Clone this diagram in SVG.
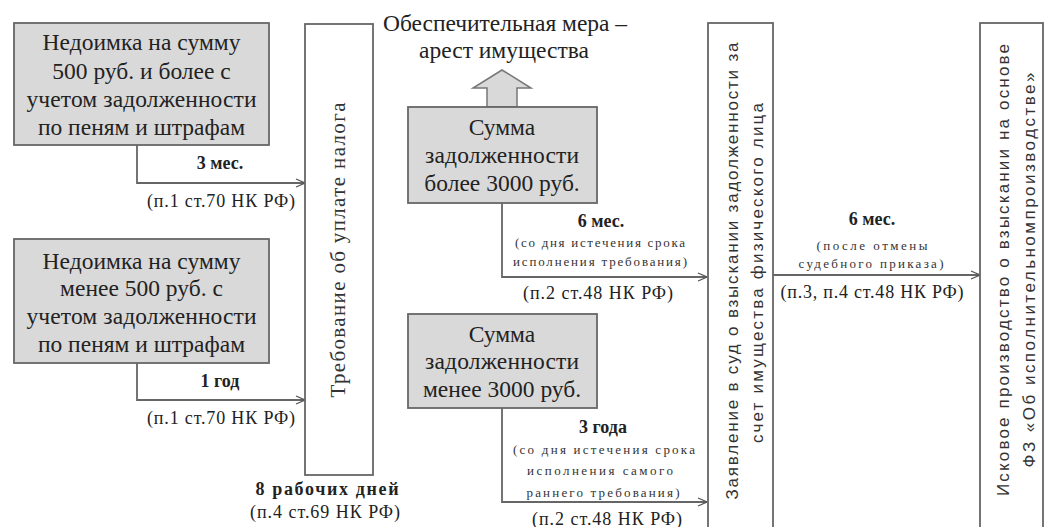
<svg xmlns="http://www.w3.org/2000/svg" width="1044" height="527" viewBox="0 0 1044 527">
<defs>
<marker id="arr" viewBox="0 0 10 10" refX="10" refY="5" markerWidth="10" markerHeight="10" markerUnits="userSpaceOnUse" orient="auto">
<polyline points="1,1 10,5 1,9" fill="none" stroke="#555" stroke-width="1.3"/>
</marker>
</defs>
<style>
.box{fill:#d9d9d9;stroke:#666;stroke-width:1.8}
.vbox{fill:#fff;stroke:#666;stroke-width:1.8}
.t{font-family:'Liberation Serif','Times New Roman',serif;font-size:23.5px;fill:#222;text-anchor:middle}
.v{font-family:'Liberation Sans',Arial,sans-serif;font-size:17px;fill:#333;text-anchor:middle}
.vs{font-family:'Liberation Serif','Times New Roman',serif;font-size:21px;fill:#333;text-anchor:middle}
.b{font-family:'Liberation Serif','Times New Roman',serif;font-size:18px;font-weight:bold;fill:#222;text-anchor:middle}
.r{font-family:'Liberation Serif','Times New Roman',serif;font-size:18px;fill:#222;text-anchor:middle}
.s{font-family:'Liberation Serif','Times New Roman',serif;font-size:13px;fill:#333;text-anchor:middle}
.c{fill:none;stroke:#666;stroke-width:1.8;marker-end:url(#arr)}
</style>
<rect width="1044" height="527" fill="#fff"/>

<g id="connectors">
<polyline class="c" points="137,145 137,183 305,183"/>
<polyline class="c" points="137,363 137,400 305,400"/>
<polyline class="c" points="502,203 502,277 707,277"/>
<polyline class="c" points="502,408 502,502 707,502"/>
<line class="c" x1="773" y1="275" x2="980" y2="275"/>
<polygon points="487,107 487,88 473,88 502,70 531,88 517,88 517,107" fill="#d9d9d9" stroke="#777" stroke-width="1.5"/>
</g>

<g id="labels">
<text class="b" x="220" y="169">3 мес.</text>
<text class="r" x="221" y="207" textLength="148" lengthAdjust="spacing">(п.1 ст.70 НК РФ)</text>
<text class="b" x="220" y="387">1 год</text>
<text class="r" x="221" y="424" textLength="148" lengthAdjust="spacing">(п.1 ст.70 НК РФ)</text>
<text class="b" x="327" y="495" textLength="143" lengthAdjust="spacing">8 рабочих дней</text>
<text class="r" x="325" y="518" textLength="150" lengthAdjust="spacing">(п.4 ст.69 НК РФ)</text>
<text class="t" x="505" y="31" textLength="244" lengthAdjust="spacing">Обеспечительная мера –</text>
<text class="t" x="504" y="58">арест имущества</text>
<text class="b" x="601" y="227">6 мес.</text>
<text class="s" x="600" y="247" textLength="170" lengthAdjust="spacing">(со дня истечения срока</text>
<text class="s" x="600" y="266" textLength="174" lengthAdjust="spacing">исполнения требования)</text>
<text class="r" x="598" y="299" textLength="150" lengthAdjust="spacing">(п.2 ст.48 НК РФ)</text>
<text class="b" x="603" y="433">3 года</text>
<text class="s" x="604" y="454" textLength="182" lengthAdjust="spacing">(со дня истечения  срока</text>
<text class="s" x="600" y="475" textLength="146" lengthAdjust="spacing">исполнения самого</text>
<text class="s" x="603" y="497" textLength="153" lengthAdjust="spacing">раннего требования)</text>
<text class="r" x="607" y="525" textLength="150" lengthAdjust="spacing">(п.2 ст.48 НК РФ)</text>
<text class="b" x="872" y="225">6 мес.</text>
<text class="s" x="872" y="250" textLength="111" lengthAdjust="spacing">(после отмены</text>
<text class="s" x="871" y="268" textLength="145" lengthAdjust="spacing">судебного приказа)</text>
<text class="r" x="872" y="298" textLength="183" lengthAdjust="spacing">(п.3, п.4 ст.48 НК РФ)</text>
</g>

<g id="node1">
<rect class="box" x="14" y="23" width="255" height="122"/>
<text class="t" x="141.5" y="50" textLength="198" lengthAdjust="spacing">Недоимка на сумму</text>
<text class="t" x="141.5" y="79">500 руб. и более с</text>
<text class="t" x="141.5" y="107" textLength="230" lengthAdjust="spacing">учетом задолженности</text>
<text class="t" x="141.5" y="135">по пеням и штрафам</text>
</g>

<g id="node2">
<rect class="box" x="14" y="239" width="255" height="124"/>
<text class="t" x="141.5" y="269" textLength="198" lengthAdjust="spacing">Недоимка на сумму</text>
<text class="t" x="141.5" y="296">менее 500 руб. с</text>
<text class="t" x="141.5" y="324" textLength="230" lengthAdjust="spacing">учетом задолженности</text>
<text class="t" x="141.5" y="352">по пеням и штрафам</text>
</g>

<g id="node3">
<rect class="vbox" x="305" y="24" width="68" height="451"/>
<text class="vs" transform="translate(345,250) rotate(-90)" textLength="295" lengthAdjust="spacing">Требование об уплате налога</text>
</g>

<g id="node4">
<rect class="box" x="408" y="107" width="189" height="96"/>
<text class="t" x="502" y="135">Сумма</text>
<text class="t" x="502" y="163" textLength="154" lengthAdjust="spacing">задолженности</text>
<text class="t" x="502" y="191">более 3000 руб.</text>
</g>

<g id="node5">
<rect class="box" x="408" y="314" width="189" height="94"/>
<text class="t" x="502" y="342">Сумма</text>
<text class="t" x="502" y="369" textLength="154" lengthAdjust="spacing">задолженности</text>
<text class="t" x="502" y="397">менее 3000 руб.</text>
</g>

<g id="node6">
<rect class="vbox" x="708" y="23" width="65" height="520"/>
<text class="v" transform="translate(738,271) rotate(-90)" textLength="457" lengthAdjust="spacing">Заявление в суд о взыскании задолженности за</text>
<text class="v" transform="translate(763,273) rotate(-90)" textLength="340" lengthAdjust="spacing">счет имущества физического лица</text>
</g>

<g id="node7">
<rect class="vbox" x="980" y="23" width="63" height="520"/>
<text class="v" transform="translate(1009,270) rotate(-90)" textLength="452" lengthAdjust="spacing">Исковое производство о взыскании на основе</text>
<text class="v" transform="translate(1035,270) rotate(-90)" textLength="395" lengthAdjust="spacing">ФЗ «Об исполнительномпроизводстве»</text>
</g>
</svg>
